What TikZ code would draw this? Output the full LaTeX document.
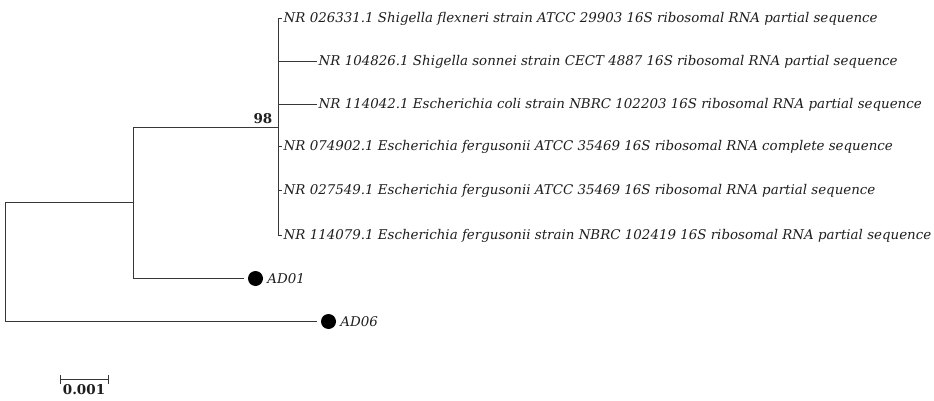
\documentclass[tikz,border=0pt]{standalone}
\usepackage{fontspec}
\setmainfont{DejaVu Serif}
\usetikzlibrary{arrows.meta,positioning,calc}
\definecolor{branchgray}{RGB}{55,55,55}
\definecolor{inkgray}{RGB}{30,30,30}
\tikzset{
  branch/.style={draw=branchgray, line width=1pt, line cap=rect},
  leaflabel/.style={anchor=west, inner sep=2pt, text=inkgray,
    font=\fontsize{13.4}{15}\selectfont\itshape},
  tipdot/.style={circle, fill=black, minimum size=15pt, inner sep=0pt},
  bootlabel/.style={font=\fontsize{13.5}{15}\selectfont\bfseries, text=inkgray, inner sep=1pt},
  scalebar/.style={draw=branchgray, line width=1pt, {Bar[width=9pt]}-{Bar[width=9pt]}},
}
\begin{document}
\begin{tikzpicture}[x=1pt, y=-1pt, shift={(0.5,0.5)}]
  \useasboundingbox (-0.5,-0.5) rectangle (933.5,400.5);

  %% ---- internal nodes ----
  \coordinate (root) at (5,262);
  \coordinate (nA) at (133,202);
  \coordinate (n98) at (278,127);

  %% ---- reference sequences (98 clade) ----
  \foreach \nm/\bx/\py/\lbl in {
      s1/278/18/{NR 026331.1 Shigella flexneri strain ATCC 29903 16S ribosomal RNA partial sequence},
      s2/313/61/{NR 104826.1 Shigella sonnei strain CECT 4887 16S ribosomal RNA partial sequence},
      s3/313/104/{NR 114042.1 Escherichia coli strain NBRC 102203 16S ribosomal RNA partial sequence},
      s4/278/146/{NR 074902.1 Escherichia fergusonii ATCC 35469 16S ribosomal RNA complete sequence},
      s5/278/190/{NR 027549.1 Escherichia fergusonii ATCC 35469 16S ribosomal RNA partial sequence},
      s6/278/235/{NR 114079.1 Escherichia fergusonii strain NBRC 102419 16S ribosomal RNA partial sequence}}{
    \node[leaflabel] (\nm) at (\bx+3,\py) {\lbl};
    \draw[branch] (n98) |- (\nm.west);}
  \node[bootlabel, anchor=south east] (b98) at ([xshift=-5pt,yshift=3pt]n98) {98};

  %% ---- isolates ----
  \node[tipdot] (d01) at (255,278) {};
  \node[leaflabel, right=2pt of d01] (t01) {AD01};
  \node[tipdot] (d06) at (328,321) {};
  \node[leaflabel, right=2pt of d06] (t06) {AD06};

  %% ---- branches ----
  \draw[branch] (n98) -| (nA) |- ([xshift=-4pt]d01.west);
  \draw[branch] (nA) -| (root) |- ([xshift=-4pt]d06.west);

  %% ---- scale bar ----
  \coordinate (sbl) at (59,379);
  \coordinate (sbr) at (108,379);
  \draw[scalebar] (sbl) -- (sbr);
  \node[bootlabel, below=4pt of $(sbl)!0.5!(sbr)$] (sbt) {0.001};
\end{tikzpicture}
\end{document}
